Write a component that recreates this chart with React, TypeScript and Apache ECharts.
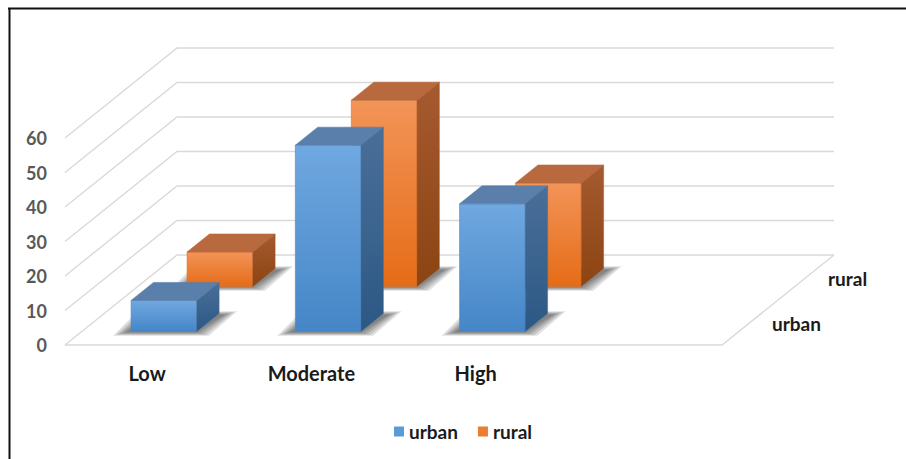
import React, { useEffect, useRef } from "react";
import * as echarts from "echarts";

// Chart data
const CATEGORIES = ["Low", "Moderate", "High", ""];
const URBAN = [9, 54, 37];
const RURAL = [10, 54, 30];
const DEPTH_ROWS = ["urban", "rural"];
const Y_TICKS = [0, 10, 20, 30, 40, 50, 60];

// Oblique projection: screen offset of the full floor depth
const DEPTH_X = 112;
const DEPTH_Y = -90;
const ROW_CENTER = [0.25, 0.75];
const BAR_DEPTH = 0.2;
const BAR_WIDTH = 0.4;

const GRID_COLOR = "#d9d9d9";
const FONT = "Lato, 'Liberation Sans', Arial, sans-serif";

type Palette = {
  base: string;
  frontTop: string;
  frontBottom: string;
  top: string;
  sideTop: string;
  sideBottom: string;
  edge: string;
};

const PALETTES: Palette[] = [
  {
    base: "#5b9bd5",
    frontTop: "#70a8e0",
    frontBottom: "#4586c7",
    top: "#5a7fab",
    sideTop: "#4a6f99",
    sideBottom: "#2c5884",
    edge: "#4f86c0",
  },
  {
    base: "#ed7d31",
    frontTop: "#f39458",
    frontBottom: "#e56c17",
    top: "#b8693d",
    sideTop: "#a65a30",
    sideBottom: "#8b4412",
    edge: "#d8722c",
  },
];

const makeBarRenderer = (row: number) => (params: any, api: any) => {
  const pal = PALETTES[row];
  const cat = api.value(0);
  const val = api.value(1);
  const base = api.coord([cat, 0]);
  const top = api.coord([cat, val]);
  const band = api.size([1, 0])[0];
  const w = band * BAR_WIDTH;
  const d0 = ROW_CENTER[row] - BAR_DEPTH / 2;
  const x0 = base[0] - w / 2 + DEPTH_X * d0;
  const x1 = x0 + w;
  const yb = base[1] + DEPTH_Y * d0;
  const yt = top[1] + DEPTH_Y * d0;
  const ddx = DEPTH_X * BAR_DEPTH;
  const ddy = DEPTH_Y * BAR_DEPTH;

  const children: any[] = [];

  // soft floor shadow built from stacked translucent footprints
  for (let i = 4; i >= 0; i--) {
    const e = 4 + i * 3;
    const ey = i * 0.8;
    children.push({
      type: "polygon",
      silent: true,
      shape: {
        points: [
          [x0 - e - 2, yb + 1 + ey],
          [x1 + e - 4, yb + 1 + ey],
          [x1 + ddx + e + 2, yb + ddy + 1 - ey],
          [x0 + ddx - e, yb + ddy + 1 - ey],
        ],
      },
      style: { fill: "rgba(0,0,0,0.12)" },
    });
  }

  // front face
  children.push({
    type: "polygon",
    shape: {
      points: [
        [x0, yt],
        [x1, yt],
        [x1, yb],
        [x0, yb],
      ],
    },
    style: {
      fill: new echarts.graphic.LinearGradient(0, 0, 0, 1, [
        { offset: 0, color: pal.frontTop },
        { offset: 1, color: pal.frontBottom },
      ]),
      stroke: pal.edge,
      lineWidth: 0.6,
    },
  });
  // top face
  children.push({
    type: "polygon",
    shape: {
      points: [
        [x0, yt],
        [x1, yt],
        [x1 + ddx, yt + ddy],
        [x0 + ddx, yt + ddy],
      ],
    },
    style: { fill: pal.top, stroke: pal.top, lineWidth: 0.6 },
  });
  // side face
  children.push({
    type: "polygon",
    shape: {
      points: [
        [x1, yt],
        [x1 + ddx, yt + ddy],
        [x1 + ddx, yb + ddy],
        [x1, yb],
      ],
    },
    style: {
      fill: new echarts.graphic.LinearGradient(0, 0, 0, 1, [
        { offset: 0, color: pal.sideTop },
        { offset: 1, color: pal.sideBottom },
      ]),
      stroke: pal.sideTop,
      lineWidth: 0.4,
    },
  });

  return { type: "group", children };
};

const renderWalls = (params: any, api: any) => {
  const v = api.value(1);
  const cs = params.coordSys;
  const y = api.coord([0, v])[1];
  const xl = cs.x;
  const xr = cs.x + cs.width;
  const children: any[] = [
    {
      type: "polyline",
      silent: true,
      shape: {
        points: [
          [xl, y],
          [xl + DEPTH_X, y + DEPTH_Y],
          [xr + DEPTH_X, y + DEPTH_Y],
        ],
      },
      style: { stroke: GRID_COLOR, lineWidth: 1.4, fill: null },
    },
  ];
  if (v === 0) {
    children.push({
      type: "polyline",
      silent: true,
      shape: {
        points: [
          [xl, y],
          [xr, y],
          [xr + DEPTH_X, y + DEPTH_Y],
        ],
      },
      style: { stroke: GRID_COLOR, lineWidth: 1.4, fill: null },
    });
    DEPTH_ROWS.forEach((name, r) => {
      children.push({
        type: "text",
        silent: true,
        style: {
          text: name,
          x: xr + DEPTH_X * ROW_CENTER[r] + 22,
          y: y + DEPTH_Y * ROW_CENTER[r] + 1,
          align: "left",
          verticalAlign: "middle",
          fill: "#1a1a1a",
          font: `bold 19px ${FONT}`,
        },
      });
    });
  }
  return { type: "group", children };
};

export default function App() {
  const ref = useRef<HTMLDivElement>(null);

  useEffect(() => {
    if (!ref.current) return;
    const chart = echarts.init(ref.current, undefined, { renderer: "svg" });
    chart.setOption({
      animation: false,
      backgroundColor: "#ffffff",
      grid: { left: 65, top: 138, width: 657, height: 207 },
      xAxis: {
        type: "category",
        data: CATEGORIES,
        axisLine: { show: false },
        axisTick: { show: false },
        splitLine: { show: false },
        axisLabel: {
          margin: 18,
          fontSize: 20,
          fontWeight: "bold",
          fontFamily: FONT,
          color: "#1a1a1a",
        },
      },
      yAxis: {
        type: "value",
        min: 0,
        max: 60,
        interval: 10,
        axisLine: { show: false },
        axisTick: { show: false },
        splitLine: { show: false },
        axisLabel: {
          margin: 18,
          fontSize: 18,
          fontWeight: "bold",
          fontFamily: FONT,
          color: "#595959",
        },
      },
      legend: {
        data: ["urban", "rural"],
        left: 389,
        top: 417,
        icon: "rect",
        itemWidth: 10,
        itemHeight: 10,
        itemGap: 20,
        textStyle: {
          fontSize: 19,
          fontWeight: "bold",
          fontFamily: FONT,
          color: "#1a1a1a",
        },
      },
      graphic: [
        {
          type: "line",
          shape: { x1: 8, y1: 8.5, x2: 906, y2: 8.5 },
          style: { stroke: "#111", lineWidth: 2 },
        },
        {
          type: "line",
          shape: { x1: 9.5, y1: 8, x2: 9.5, y2: 459 },
          style: { stroke: "#111", lineWidth: 2 },
        },
      ],
      series: [
        {
          type: "custom",
          name: "walls",
          silent: true,
          renderItem: renderWalls,
          data: Y_TICKS.map((v) => [0, v]),
          encode: { x: 0, y: 1 },
          z: 1,
        },
        {
          type: "custom",
          name: "rural",
          renderItem: makeBarRenderer(1),
          itemStyle: { color: PALETTES[1].base },
          data: RURAL.map((v, i) => [i, v]),
          encode: { x: 0, y: 1 },
          z: 2,
        },
        {
          type: "custom",
          name: "urban",
          renderItem: makeBarRenderer(0),
          itemStyle: { color: PALETTES[0].base },
          data: URBAN.map((v, i) => [i, v]),
          encode: { x: 0, y: 1 },
          z: 3,
        },
      ],
    });
    return () => chart.dispose();
  }, []);

  return (
    <div
      ref={ref}
      style={{ position: "absolute", left: 0, top: 0, width: 906, height: 459 }}
    />
  );
}
